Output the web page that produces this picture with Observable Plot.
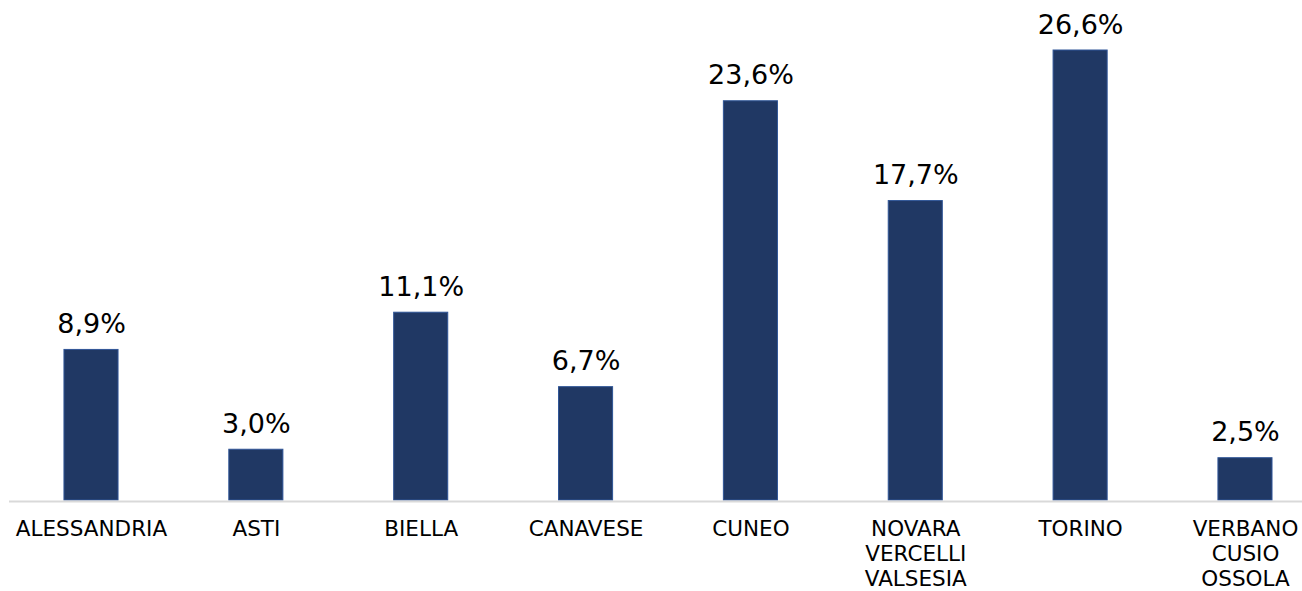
<!DOCTYPE html>
<html>
<head>
<meta charset="utf-8">
<script src="https://cdn.jsdelivr.net/npm/d3@7"></script>
<script src="https://cdn.jsdelivr.net/npm/@observablehq/plot@0.6"></script>
<style>
  html, body { margin: 0; padding: 0; background: #fff; }
  #chart svg { display: block; }
</style>
</head>
<body>
<div id="chart"></div>
<script>
const categories = ["ALESSANDRIA", "ASTI", "BIELLA", "CANAVESE", "CUNEO", "NOVARA\nVERCELLI\nVALSESIA", "TORINO", "VERBANO\nCUSIO\nOSSOLA"];
const values = [8.9, 3.0, 11.1, 6.7, 23.6, 17.7, 26.6, 2.5];
const valueLabels = ["8,9%", "3,0%", "11,1%", "6,7%", "23,6%", "17,7%", "26,6%", "2,5%"];

const data = categories.map((c, i) => ({cat: c, value: values[i], label: valueLabels[i]}));

const font = "Verdana, 'DejaVu Sans', sans-serif";

const chart = Plot.plot({
  width: 1302,
  height: 591,
  marginLeft: 9,
  marginRight: 0,
  marginTop: 0,
  marginBottom: 91,
  style: {fontFamily: font, background: "#fff"},
  x: {domain: categories, range: [8.57, 1327.4], paddingInner: 0.672, paddingOuter: 0.336, round: false, axis: null},
  y: {domain: [0, 26.6], range: [500, 50], axis: null},
  marks: [
    Plot.barY(data, {x: "cat", y: "value", fill: "#203864", stroke: "#2f5597", strokeWidth: 1}),
    Plot.ruleY([0], {stroke: "#d9d9d9", strokeWidth: 2, dy: 1}),
    Plot.text(data, {x: "cat", y: "value", text: "label", lineAnchor: "bottom", dy: -17, fontSize: 27, fill: "#000"}),
    Plot.text(data, {x: "cat", y: 0, text: "cat", lineAnchor: "top", dy: 18, fontSize: 21.5, lineHeight: 1.15, fill: "#000"})
  ]
});
document.getElementById("chart").appendChild(chart);
</script>
</body>
</html>
